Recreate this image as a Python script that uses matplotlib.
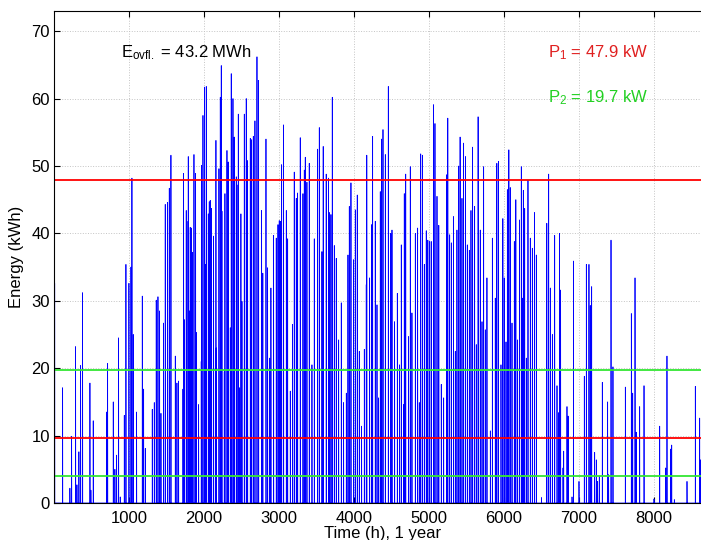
import numpy as np
import matplotlib
matplotlib.use("Agg")
import matplotlib.pyplot as plt

plt.rcParams['font.family'] = ['Liberation Sans', 'DejaVu Sans']
plt.rcParams['mathtext.fontset'] = 'custom'
plt.rcParams['mathtext.rm'] = 'Liberation Sans'
plt.rcParams['mathtext.it'] = 'Liberation Sans:italic'
plt.rcParams['font.size'] = 12

# daily energy peaks: hour of year, kWh
peak_hours = [
    10, 116, 213, 236, 289, 307, 333, 356, 382, 480, 493, 524, 702, 716, 791,
    813, 836, 862, 884, 938, 960, 1000, 1027, 1040, 1058, 1102, 1178, 1196,
    1218, 1311, 1338, 1364, 1387, 1409, 1427, 1462, 1484, 1516, 1538, 1560,
    1618, 1640, 1662, 1720, 1729, 1738, 1764, 1773, 1791, 1809, 1817, 1831,
    1844, 1867, 1889, 1898, 1929, 1964, 1969, 1987, 2009, 2018, 2031, 2058,
    2071, 2084, 2102, 2129, 2160, 2164, 2200, 2218, 2231, 2240, 2271, 2280,
    2307, 2320, 2324, 2351, 2364, 2387, 2404, 2431, 2440, 2458, 2476, 2493,
    2507, 2538, 2564, 2582, 2618, 2636, 2658, 2680, 2707, 2729, 2769, 2785,
    2827, 2849, 2876, 2893, 2929, 2964, 2987, 3004, 3018, 3036, 3062, 3098,
    3116, 3151, 3182, 3204, 3231, 3249, 3284, 3320, 3338, 3351, 3373, 3404,
    3440, 3471, 3516, 3538, 3573, 3590, 3630, 3662, 3671, 3693, 3711, 3738,
    3764, 3796, 3831, 3862, 3898, 3920, 3938, 3960, 3996, 4018, 4044, 4071,
    4102, 4138, 4164, 4171, 4209, 4236, 4249, 4284, 4307, 4329, 4351, 4369,
    4387, 4418, 4458, 4490, 4507, 4542, 4578, 4609, 4631, 4662, 4671, 4690,
    4729, 4751, 4773, 4818, 4849, 4871, 4890, 4912, 4938, 4964, 4985, 5009,
    5030, 5062, 5080, 5107, 5131, 5164, 5196, 5233, 5251, 5276, 5298, 5327,
    5351, 5373, 5396, 5415, 5440, 5462, 5486, 5511, 5538, 5560, 5582, 5609,
    5631, 5655, 5684, 5707, 5729, 5751, 5773, 5818, 5845, 5884, 5905, 5927,
    5960, 5985, 6004, 6027, 6045, 6065, 6084, 6107, 6138, 6158, 6182, 6207,
    6231, 6250, 6258, 6276, 6298, 6320, 6351, 6378, 6406, 6431, 6500, 6571,
    6596, 6618, 6645, 6676, 6707, 6729, 6740, 6755, 6787, 6796, 6840, 6855,
    6907, 6926, 7000, 7071, 7098, 7133, 7151, 7169, 7209, 7231, 7249, 7271,
    7311, 7382, 7395, 7427, 7453, 7618, 7698, 7716, 7747, 7764, 7809, 7867,
    8000, 8076, 8156, 8173, 8222, 8236, 8271, 8440, 8551, 8609, 8620,
]
peak_kwh = [
    32.6, 17.1, 2.2, 9.9, 23.2, 2.7, 7.6, 20.4, 31.2, 17.8, 1.9, 12.2, 13.5, 20.7, 15.0,
    5.0, 7.1, 24.5, 0.9, 13.0, 35.4, 32.6, 35.0, 48.2, 25.0, 13.5, 30.7, 16.9,
    8.1, 13.9, 14.9, 30.1, 30.6, 28.5, 13.3, 26.7, 44.3, 44.6, 46.7, 51.6,
    21.8, 17.8, 18.1, 16.9, 48.9, 27.2, 43.4, 41.8, 51.4, 28.5, 40.9, 40.8,
    37.2, 51.7, 48.9, 25.3, 14.6, 21.0, 50.1, 57.5, 61.7, 35.4, 61.8, 42.9,
    44.7, 44.9, 43.7, 39.6, 53.8, 23.0, 49.6, 60.2, 64.9, 43.3, 19.5, 45.9,
    52.3, 29.9, 50.6, 26.0, 63.7, 60.0, 54.3, 48.4, 47.2, 57.7, 17.1, 42.9,
    29.9, 57.7, 60.0, 50.8, 54.1, 53.9, 54.4, 56.7, 66.2, 62.7, 43.4, 34.1,
    54.0, 34.9, 21.5, 31.9, 39.7, 39.3, 41.3, 41.9, 41.8, 50.2, 56.1, 43.4,
    39.2, 16.6, 26.5, 49.1, 45.2, 46.0, 54.2, 45.9, 49.4, 51.3, 47.6, 50.4,
    20.5, 39.2, 52.5, 55.7, 37.3, 52.9, 48.8, 48.2, 43.1, 42.8, 60.2, 38.2,
    36.3, 24.2, 29.7, 14.9, 16.3, 36.8, 44.0, 47.5, 36.1, 43.5, 45.7, 22.5,
    11.4, 22.8, 32.4, 51.6, 33.4, 41.3, 54.4, 41.8, 29.4, 15.6, 46.2, 54.0,
    55.4, 51.7, 61.8, 40.0, 40.5, 26.9, 31.1, 20.5, 38.3, 14.6, 45.9, 48.8,
    24.7, 49.9, 28.2, 40.0, 40.8, 14.9, 51.8, 51.6, 35.4, 40.4, 39.0, 38.8,
    38.8, 59.1, 56.3, 45.5, 41.2, 17.6, 15.6, 48.7, 57.1, 39.8, 38.6, 42.5,
    22.5, 40.5, 50.0, 54.3, 45.2, 53.4, 51.4, 38.3, 37.5, 43.4, 52.8, 44.0,
    23.5, 57.3, 40.5, 26.9, 49.9, 25.7, 33.4, 10.7, 39.3, 30.4, 50.4, 50.7,
    20.5, 42.2, 33.4, 23.9, 46.5, 52.4, 46.8, 26.7, 38.8, 45.0, 24.2, 42.0,
    49.9, 30.4, 46.4, 43.7, 21.5, 47.9, 39.3, 37.8, 43.1, 36.8, 0.8, 41.5,
    48.8, 31.9, 25.0, 39.7, 17.4, 13.4, 40.0, 31.6, 5.2, 7.7, 14.3, 12.9,
    0.9, 35.9, 3.2, 18.8, 35.4, 35.4, 29.3, 32.1, 7.5, 6.4, 3.2, 4.0,
    17.9, 15.0, 4.2, 39.0, 20.2, 17.2, 28.1, 16.3, 33.4, 10.5, 14.3, 17.4,
    0.6, 11.4, 5.2, 21.8, 8.0, 8.6, 0.5, 3.2, 17.3, 12.6, 6.4,
]

P1 = 47.9
P2 = 19.7
E_ovfl = 43.2

hours = np.arange(1, 8761)
energy = np.zeros(len(hours))
energy[np.array(peak_hours) - 1] = peak_kwh

fig = plt.figure(figsize=(7.01, 5.40), dpi=100)
ax = fig.add_axes([54 / 701, 37 / 540, 657 / 701, 492 / 540])

ax.plot(hours, energy, color=(0, 0, 1), lw=0.55)

# capacity lines and their fifths
ax.axhline(P1, color='red', lw=1.3)
ax.axhline(P1 / 5, color='red', lw=1.3)
ax.axhline(P2, color='#33e633', lw=1.3)
ax.axhline(P2 / 5, color='#33e633', lw=1.3)

ax.set_xlim(1, 8760)
ax.set_ylim(0, 73)
ax.set_xticks(range(1000, 9000, 1000))
ax.set_yticks(range(0, 80, 10))
ax.tick_params(direction='in', top=True, right=True, length=4, width=0.8)
ax.tick_params(axis='x', pad=6)
ax.tick_params(axis='y', pad=3)
ax.grid(True, linestyle=':', color='#c4c4c4', lw=0.7)
ax.set_axisbelow(True)

ax.set_xlabel('Time (h), 1 year', labelpad=0)
ax.set_ylabel('Energy (kWh)', labelpad=5)

ax.text(893, 66.8, r'E$_{\mathrm{ovfl.}}$ = %.1f MWh' % E_ovfl, va='center')
ax.text(6583, 66.8, r'P$_{\mathrm{1}}$ = %.1f kW' % P1, color='#e02020', va='center')
ax.text(6583, 60.1, r'P$_{\mathrm{2}}$ = %.1f kW' % P2, color='#22d022', va='center')

fig.savefig('out.png', dpi=100)
